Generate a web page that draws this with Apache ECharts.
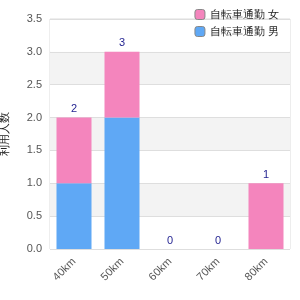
<!DOCTYPE html>
<html><head><meta charset="utf-8">
<script src="https://cdn.jsdelivr.net/npm/echarts@6/dist/echarts.min.js"></script>
<style>html,body{margin:0;padding:0;background:#fff}#c{width:300px;height:300px}</style>
</head><body><div id="c"></div>
<script>
var categories = ['40km','50km','60km','70km','80km'];
var seriesNames = ['自転車通勤 男','自転車通勤 女'];
var blueValues = [1, 2, 0, 0, 0];
var pinkValues = [1, 1, 0, 0, 1];
var yAxisName = '利用人数';
var totals = categories.map(function(c,i){return blueValues[i]+pinkValues[i];});
var chart = echarts.init(document.getElementById('c'), null, {renderer:'canvas'});
chart.setOption({
  animation:false,
  backgroundColor:'#fff',
  grid:{left:50,right:10,top:19,bottom:51,outerBoundsMode:'none',containLabel:false,show:true,borderColor:'#dcdcdc',borderWidth:1,backgroundColor:'transparent'},
  legend:{
    orient:'vertical', right:16, top:4, itemWidth:10, itemHeight:10, itemGap:6,
    data:[seriesNames[1], seriesNames[0]],
    textStyle:{fontSize:11,color:'#222'},
    itemStyle:{borderColor:'#888',borderWidth:1}
  },
  xAxis:{
    type:'category', data:categories,
    axisLine:{show:false}, axisTick:{show:false},
    axisLabel:{rotate:45,fontSize:11,color:'#555',margin:11,interval:0}
  },
  yAxis:{
    type:'value', min:0, max:3.5, interval:0.5,
    name:yAxisName, nameLocation:'middle', nameGap:40, nameRotate:90,
    nameTextStyle:{fontSize:11,color:'#222'},
    axisLine:{show:false}, axisTick:{show:false},
    axisLabel:{fontSize:11,color:'#555',formatter:function(v){return v.toFixed(1);}},
    splitLine:{show:true,lineStyle:{color:'#dedede'}},
    splitArea:{show:true,areaStyle:{color:['#ffffff','#f3f3f3']}}
  },
  series:[
    {name:seriesNames[0], type:'bar', stack:'s', data:blueValues, barWidth:35,
     itemStyle:{color:'#5fa8f5'}},
    {name:seriesNames[1], type:'bar', stack:'s', data:pinkValues, barWidth:35,
     itemStyle:{color:'#f485bd'},
     label:{show:true, position:'top', distance:3, fontSize:11, color:'#1f1f8f',
       formatter:function(p){return String(totals[p.dataIndex]);}}}
  ]
});
</script></body></html>
